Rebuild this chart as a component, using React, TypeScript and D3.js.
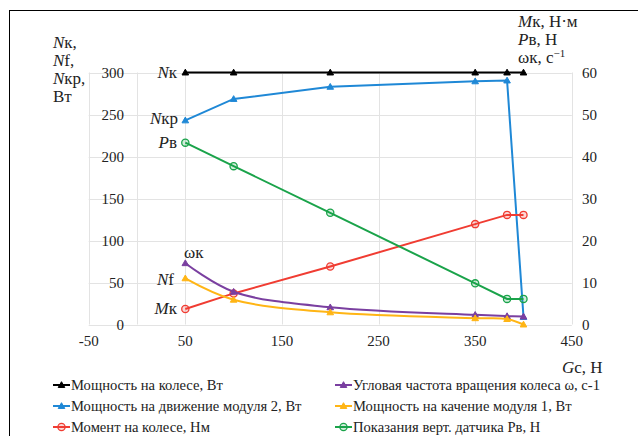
import React, { useEffect, useRef } from 'react';
import * as d3 from 'd3';

// Gс, Н
const gc = [50, 100, 200, 350, 383, 400];
// left axis, Вт
const nk = [300, 300, 300, 300, 300, 300];
const nkr = [243, 268.5, 283, 289.5, 290.5, 9];
const nf = [55, 29.5, 14.5, 7.5, 6.5, 0];
// right axis
const mk = [3.7, 7.4, 13.8, 23.9, 26.1, 26.1];
const pv = [43.3, 37.7, 26.6, 9.8, 6.1, 6.1];
const wk = [14.6, 7.8, 4.1, 2.3, 2.0, 1.9];

const xTicks = [-50, 50, 150, 250, 350, 450];
const leftTicks = [0, 50, 100, 150, 200, 250, 300];
const rightTicks = [0, 10, 20, 30, 40, 50, 60];

const FONT = "'Liberation Serif', 'DejaVu Serif', 'Times New Roman', serif";

const App = () => {
  const ref = useRef<SVGSVGElement>(null);

  useEffect(() => {
    const svg = d3.select(ref.current);
    svg.selectAll('*').remove();

    const x = d3.scaleLinear().domain([-50, 450]).range([88.7, 571.8]);
    const yL = d3.scaleLinear().domain([0, 300]).range([324.5, 72.5]);
    const yR = d3.scaleLinear().domain([0, 60]).range([324.5, 72.5]);

    const series = [
      { name: 'Мощность на колесе, Вт', vals: nk, y: yL, color: '#000000', marker: 'tri', smooth: false },
      { name: 'Мощность на движение модуля 2, Вт', vals: nkr, y: yL, color: '#1f88d6', marker: 'tri', smooth: false },
      { name: 'Момент на колесе, Нм', vals: mk, y: yR, color: '#f03c32', marker: 'circ', smooth: false },
      { name: 'Угловая частота вращения колеса ω, с-1', vals: wk, y: yR, color: '#7a3fa0', marker: 'tri', smooth: true },
      { name: 'Мощность на качение модуля 1, Вт', vals: nf, y: yL, color: '#ffb515', marker: 'tri', smooth: true },
      { name: 'Показания верт. датчика Рв, Н', vals: pv, y: yR, color: '#1aa34a', marker: 'circ', smooth: false },
    ];

    // frame
    svg.append('rect').attr('x', 9.5).attr('y', 10.5).attr('width', 700).attr('height', 500)
      .attr('fill', 'white').attr('stroke', '#000').attr('stroke-width', 1);

    const grid = svg.append('g').attr('stroke', '#e3e3e3').attr('stroke-width', 1);
    leftTicks.forEach(t => {
      grid.append('line').attr('x1', x(-50)).attr('x2', x(450))
        .attr('y1', Math.round(yL(t)) + 0.5).attr('y2', Math.round(yL(t)) + 0.5);
    });
    xTicks.concat([0]).forEach(t => {
      grid.append('line').attr('x1', Math.round(x(t)) + 0.5).attr('x2', Math.round(x(t)) + 0.5)
        .attr('y1', yL(0)).attr('y2', yL(300));
    });

    const txt = svg.append('g').attr('fill', '#222');
    const addText = (xx: number, yy: number, size: number, anchor = 'start') =>
      txt.append('text').attr('x', xx).attr('y', yy).attr('text-anchor', anchor)
        .attr('font-family', FONT).attr('font-size', size);

    leftTicks.forEach(t => addText(124, yL(t) + 5, 15, 'end').text(t));
    rightTicks.forEach(t => addText(582, yR(t) + 5, 15).text(t));
    xTicks.forEach(t => addText(x(t), 346, 15, 'middle').text(t));

    // series
    series.forEach(s => {
      const pts: [number, number][] = gc.map((g, i) => [x(g), s.y(s.vals[i])]);
      const line = d3.line().curve(s.smooth ? d3.curveCatmullRom.alpha(0.5) : d3.curveLinear);
      svg.append('path').attr('d', line(pts)).attr('fill', 'none')
        .attr('stroke', s.color).attr('stroke-width', 2);
      pts.forEach(p => drawMarker(svg, s.marker, p[0], p[1], s.color));
    });

    // series labels and axis titles
    const rich = (xx: number, yy: number, it: string, rest: string, anchor = 'start') => {
      const t = addText(xx, yy, 17, anchor);
      if (it) t.append('tspan').attr('font-style', 'italic').text(it);
      t.append('tspan').text(rest);
      return t;
    };
    rich(177, 78, 'N', 'к', 'end');
    rich(178, 124, 'N', 'кр', 'end');
    rich(177, 148, 'P', 'в', 'end');
    rich(184, 258, '', 'ωк');
    rich(174, 285, 'N', 'f', 'end');
    rich(177, 314, 'M', 'к', 'end');

    rich(53, 48, 'N', 'к,');
    rich(53, 66, 'N', 'f,');
    rich(53, 84, 'N', 'кр,');
    rich(53, 102, '', 'Вт');
    rich(518, 27, 'M', 'к, Н·м');
    rich(518, 45, 'P', 'в, Н');
    const w = rich(518, 63, '', 'ωк, с');
    w.append('tspan').attr('font-size', 11).attr('dy', -6).text('−1');
    rich(562, 373, 'G', 'с, Н');

    // legend
    const cols = [53, 335];
    const rows = [385, 406, 427];
    series.forEach((s, i) => {
      const lx = cols[Math.floor(i / 3)];
      const ly = rows[i % 3];
      svg.append('line').attr('x1', lx).attr('x2', lx + 17).attr('y1', ly).attr('y2', ly)
        .attr('stroke', s.color).attr('stroke-width', 2);
      drawMarker(svg, s.marker, lx + 8.5, ly, s.color);
      addText(lx + 18, ly + 5, 14.6).text(s.name);
    });
  }, []);

  return (
    <svg ref={ref} width={638} height={436}
      style={{ position: 'absolute', left: 0, top: 0, background: 'white', fontFamily: FONT }} />
  );
};

function drawMarker(svg: any, kind: string, cx: number, cy: number, color: string) {
  if (kind === 'tri') {
    const r = 3.3;
    svg.append('path')
      .attr('d', `M${cx},${cy - r}L${cx + r},${cy + r * 0.75}L${cx - r},${cy + r * 0.75}Z`)
      .attr('fill', color).attr('stroke', color).attr('stroke-width', 1);
  } else {
    svg.append('circle').attr('cx', cx).attr('cy', cy).attr('r', 3.6)
      .attr('fill', color).attr('fill-opacity', 0.2)
      .attr('stroke', color).attr('stroke-width', 1.3);
  }
}

export default App;
